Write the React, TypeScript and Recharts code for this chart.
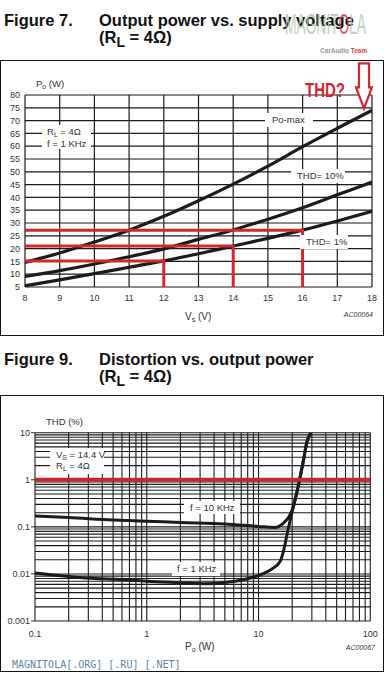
import React from "react";
import {
  LineChart,
  Line,
  XAxis,
  YAxis,
  CartesianGrid,
  ReferenceLine,
  ReferenceDot,
} from "recharts";

// ── Figure 7: output power vs. supply voltage ────────────────────────────────

const supplyV = [8, 9, 10, 11, 12, 13, 14, 15, 16, 17, 18];
const poMax = [14.6, 18.3, 22.6, 27.2, 32.6, 38.7, 45.2, 52.2, 59.8, 67, 74];
const thd10 = [9.1, 11.4, 14, 16.8, 19.9, 23.6, 27.3, 31.5, 36, 41, 46];
const thd1 = [5.5, 7.8, 10.2, 12.7, 15.2, 18, 21, 24, 27.2, 30.8, 34.6];
const markedV = [12, 14, 16];
const powerTicks = [5, 10, 15, 20, 25, 30, 35, 40, 45, 50, 55, 60, 65, 70, 75, 80];

// ── Figure 9: distortion vs. output power ────────────────────────────────────

const p10k = [0.1, 0.2, 0.5, 1, 2, 5, 10, 14, 16.7, 18.9, 20.5, 22.1, 23.3, 25.4, 27.1, 29.5];
const thd10k = [0.17, 0.158, 0.14, 0.132, 0.124, 0.115, 0.102, 0.097, 0.12, 0.17, 0.27, 0.56, 1.0, 2.85, 6.4, 10];
const p1k = [0.1, 0.25, 0.7, 1, 2, 3.2, 6.4, 11, 13, 15.6, 16.7, 17.9, 19.2, 20.5, 22.1, 23.3, 25.4, 27.1, 29.5];
const thd1k = [0.0105, 0.0084, 0.0074, 0.007, 0.0065, 0.0062, 0.0071, 0.0102, 0.0125, 0.0184, 0.03, 0.065, 0.14, 0.27, 0.56, 1.0, 2.85, 6.4, 10];
const powerDecades = [0.1, 1, 10, 100];
const thdDecades = [0.001, 0.01, 0.1, 1, 10];

// log grid: 1..9 inside every decade
function logGrid(decades: number[]) {
  const out: number[] = [];
  decades.forEach((d, i) => {
    if (i === decades.length - 1) {
      out.push(d);
      return;
    }
    for (let m = 1; m <= 9; m++) out.push(m === 1 ? d : Number((d * m).toPrecision(3)));
  });
  return out;
}
const powerGrid = logGrid(powerDecades);
const thdGrid = logGrid(thdDecades);

const FONT = "'Liberation Sans', Arial, Helvetica, sans-serif";
const RED = "#d3262e";
const INK = "#1b1b1b";

// ── small helpers ────────────────────────────────────────────────────────────

function Txt({
  x,
  y,
  size = 9.5,
  end,
  style,
  children,
}: {
  x: number;
  y: number;
  size?: number;
  end?: boolean;
  style?: React.CSSProperties;
  children: React.ReactNode;
}) {
  return (
    <div
      style={{
        position: "absolute",
        left: x,
        top: y - size * 0.62,
        fontSize: size,
        lineHeight: `${size * 1.2}px`,
        whiteSpace: "nowrap",
        color: "#333",
        transform: end ? "translateX(-100%)" : undefined,
        ...style,
      }}
    >
      {children}
    </div>
  );
}

function Box({ x, y, w, h }: { x: number; y: number; w: number; h: number }) {
  return <div style={{ position: "absolute", left: x, top: y, width: w, height: h, background: "#fff" }} />;
}

const Sub = ({ children }: { children: React.ReactNode }) => (
  <span style={{ fontSize: "0.72em", verticalAlign: "-0.25em" }}>{children}</span>
);

function Title({ top, num, text }: { top: number; num: string; text: string }) {
  const st: React.CSSProperties = {
    position: "absolute",
    fontSize: 16.5,
    lineHeight: "16.5px",
    fontWeight: 700,
    color: "#111",
    whiteSpace: "nowrap",
  };
  return (
    <>
      <div style={{ ...st, left: 4, top }}>{num}</div>
      <div style={{ ...st, left: 99, top }}>{text}</div>
      <div style={{ ...st, left: 99, top: top + 17 }}>
        (R<span style={{ fontSize: "0.85em", verticalAlign: "-0.3em" }}>L</span> = 4Ω)
      </div>
    </>
  );
}

function Arrow(props: any) {
  const { cx, cy } = props;
  const tx = cx - 8;
  const ty = cy - 2;
  const d = `M${tx - 5},${ty - 45} L${tx + 5},${ty - 45} L${tx + 5},${ty - 21} L${tx + 8},${ty - 21} L${tx},${ty} L${tx - 8},${ty - 21} L${tx - 5},${ty - 21} Z`;
  return (
    <g>
      <path d={d} fill="#fff" stroke={RED} strokeWidth={2.2} strokeLinejoin="miter" />
      <text x={cx - 67} y={cy - 13} fontSize={20} fontWeight={700} fill={RED} textLength={40} lengthAdjust="spacingAndGlyphs">
        THD?
      </text>
    </g>
  );
}

function DecadeTickX(props: any) {
  const { x, y, payload } = props;
  if (!powerDecades.includes(payload.value)) return <g />;
  return (
    <text x={x} y={y} dy="0.71em" textAnchor="middle" fontSize={9} fill="#333">
      {String(payload.value)}
    </text>
  );
}

function DecadeTickY(props: any) {
  const { x, y, payload } = props;
  if (!thdDecades.includes(payload.value)) return <g />;
  return (
    <g>
      <line x1={x + 1} x2={x + 5} y1={y} y2={y} stroke="#333" strokeWidth={1} />
      <text x={x} y={y} dy="0.35em" textAnchor="end" fontSize={9} fill="#333">
        {String(payload.value)}
      </text>
    </g>
  );
}

// ── App ──────────────────────────────────────────────────────────────────────

export default function App() {
  const fig7Series = [
    { key: "max", vals: poMax },
    { key: "t10", vals: thd10 },
    { key: "t1", vals: thd1 },
  ].map((s) => ({ key: s.key, data: supplyV.map((v, i) => ({ v, w: s.vals[i] })) }));

  const guides = markedV.map((v) => {
    const level = thd1[supplyV.indexOf(v)];
    return [
      { v: supplyV[0], w: level },
      { v, w: level },
      { v, w: powerTicks[0] },
    ];
  });

  const fig9Series = [
    p10k.map((p, i) => ({ p, t: thd10k[i] })),
    p1k.map((p, i) => ({ p, t: thd1k[i] })),
  ];

  const axisTick = { fontSize: 9, fill: "#333" };

  return (
    <div
      style={{
        position: "fixed",
        left: 0,
        top: 0,
        width: 387,
        height: 673,
        background: "#fff",
        fontFamily: FONT,
        overflow: "hidden",
      }}
    >
      <Title top={12} num="Figure 7." text="Output power vs. supply voltage" />

      {/* watermark */}
      <div
        style={{
          position: "absolute",
          left: 285,
          top: 9,
          fontSize: 30,
          lineHeight: "30px",
          color: "#b4c8b2",
          opacity: 0.85,
          whiteSpace: "nowrap",
          transform: "scaleX(0.46)",
          transformOrigin: "0 0",
        }}
      >
        MAGNIT<span style={{ color: "#d0444a" }}>O</span>LA
      </div>
      <div
        style={{
          position: "absolute",
          left: 320,
          top: 47,
          fontSize: 7,
          lineHeight: "8px",
          fontWeight: 700,
          whiteSpace: "nowrap",
          transform: "scaleX(0.92)",
          transformOrigin: "0 0",
        }}
      >
        <span style={{ color: "#9a9a9a" }}>CarAudio </span>
        <span style={{ color: "#d0444a" }}>Team</span>
      </div>

      {/* frame 7 */}
      <div style={{ position: "absolute", left: 0, top: 60, width: 382, height: 274, border: "1.5px solid #111" }} />

      <div style={{ position: "absolute", left: 0, top: 0 }}>
        <LineChart width={387} height={340} margin={{ top: 95, right: 15, bottom: 23, left: 0 }}>
          <CartesianGrid stroke={INK} strokeWidth={1.2} />
          <XAxis
            type="number"
            dataKey="v"
            domain={[8, 18]}
            ticks={supplyV}
            interval={0}
            axisLine={false}
            tickLine={false}
            tickSize={4}
            tickMargin={4}
            height={30}
            tick={axisTick}
            allowDataOverflow
          />
          <YAxis
            type="number"
            domain={[5, 80]}
            ticks={powerTicks}
            interval={0}
            axisLine={false}
            tickLine={false}
            tickSize={3}
            tickMargin={2}
            width={25}
            tick={axisTick}
            allowDataOverflow
          />
          {fig7Series.map((s) => (
            <Line
              key={s.key}
              data={s.data}
              dataKey="w"
              type="monotone"
              stroke={INK}
              strokeWidth={3.2}
              dot={false}
              isAnimationActive={false}
            />
          ))}
          {guides.map((g, i) => (
            <Line
              key={`g${i}`}
              data={g}
              dataKey="w"
              type="linear"
              stroke={RED}
              strokeWidth={3}
              dot={false}
              isAnimationActive={false}
            />
          ))}
          <ReferenceDot x={supplyV[supplyV.length - 1]} y={poMax[poMax.length - 1]} ifOverflow="visible" shape={Arrow} />
        </LineChart>
      </div>

      {/* figure 7 labels */}
      <Txt x={36} y={84}>
        P<Sub>o</Sub> (W)
      </Txt>
      <Box x={42} y={125} w={49} h={24} />
      <Txt x={47} y={132}>
        R<Sub>L</Sub> = 4Ω
      </Txt>
      <Txt x={47} y={144}>f = 1 KHz</Txt>
      <Box x={265} y={113} w={48} h={14} />
      <Txt x={272} y={120}>Po-max</Txt>
      <Box x={291} y={169} w={54} h={14} />
      <Txt x={297} y={176}>THD= 10%</Txt>
      <Box x={300} y={235} w={48} h={14} />
      <Txt x={306} y={242}>THD= 1%</Txt>
      <Txt x={185} y={317} size={10}>
        V<Sub>s</Sub> (V)
      </Txt>
      <Txt x={373} y={315} size={7} end style={{ fontStyle: "italic" }}>
        AC00064
      </Txt>

      <Title top={351} num="Figure 9." text="Distortion vs. output power" />

      {/* frame 9 */}
      <div style={{ position: "absolute", left: 0, top: 395, width: 382, height: 275, border: "1.5px solid #111" }} />

      <div style={{ position: "absolute", left: 0, top: 380 }}>
        <LineChart width={387} height={293} margin={{ top: 52.7, right: 16.7, bottom: 22, left: 0 }}>
          <CartesianGrid stroke={INK} strokeWidth={1.1} />
          <XAxis
            type="number"
            dataKey="p"
            scale="log"
            domain={[0.1, 100]}
            ticks={powerGrid}
            interval={0}
            axisLine={false}
            tickLine={false}
            tickSize={5}
            tickMargin={5}
            height={30}
            tick={DecadeTickX}
            allowDataOverflow
          />
          <YAxis
            type="number"
            scale="log"
            domain={[0.001, 10]}
            ticks={thdGrid}
            interval={0}
            axisLine={false}
            tickLine={false}
            tickSize={4}
            tickMargin={1}
            width={35}
            tick={DecadeTickY}
            allowDataOverflow
          />
          {fig9Series.map((d, i) => (
            <Line
              key={i}
              data={d}
              dataKey="t"
              type="monotone"
              stroke={INK}
              strokeWidth={3}
              dot={false}
              isAnimationActive={false}
            />
          ))}
          <ReferenceLine y={1} stroke="#c8262c" strokeWidth={4} />
        </LineChart>
      </div>

      {/* figure 9 labels */}
      <Txt x={46} y={422}>THD (%)</Txt>
      <Box x={50} y={448} w={54} h={26} />
      <Txt x={56} y={455}>
        V<Sub>S</Sub> = 14.4 V
      </Txt>
      <Txt x={56} y={466}>
        R<Sub>L</Sub> = 4Ω
      </Txt>
      <Box x={184} y={501} w={56} h={13} />
      <Txt x={190} y={508}>f = 10 KHz</Txt>
      <Box x={172} y={562} w={48} h={14} />
      <Txt x={177} y={569}>f = 1 KHz</Txt>
      <Txt x={185} y={647} size={10}>
        P<Sub>o</Sub> (W)
      </Txt>
      <Txt x={375} y={648} size={7} end style={{ fontStyle: "italic" }}>
        AC00067
      </Txt>
      <Txt x={12} y={665} size={10} style={{ fontFamily: "'DejaVu Sans Mono', monospace", color: "#5f84a8" }}>
        MAGNITOLA[.ORG] [.RU] [.NET]
      </Txt>
    </div>
  );
}
